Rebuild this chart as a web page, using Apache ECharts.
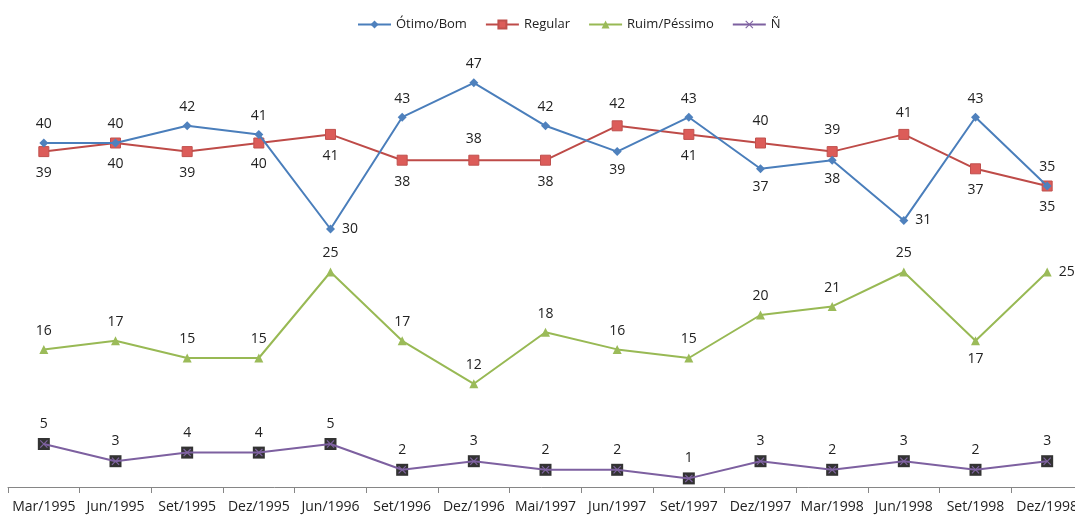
<!DOCTYPE html>
<html>
<head>
<meta charset="utf-8">
<script src="https://cdn.jsdelivr.net/npm/echarts@6/dist/echarts.min.js"></script>
<style>
  html, body { margin: 0; padding: 0; background: #fff; }
  #chart { width: 1075px; height: 515px; }
</style>
</head>
<body>
<div id="chart"></div>
<script>
var categories = ['Mar/1995', 'Jun/1995', 'Set/1995', 'Dez/1995', 'Jun/1996', 'Set/1996', 'Dez/1996',
    'Mai/1997', 'Jun/1997', 'Set/1997', 'Dez/1997', 'Mar/1998', 'Jun/1998', 'Set/1998', 'Dez/1998'];
var otimoBom = [40, 40, 42, 41, 30, 43, 47, 42, 39, 43, 37, 38, 31, 43, 35];
var regular = [39, 40, 39, 40, 41, 38, 38, 38, 42, 41, 40, 39, 41, 37, 35];
var ruimPessimo = [16, 17, 15, 15, 25, 17, 12, 18, 16, 15, 20, 21, 25, 17, 25];
var naoSabe = [5, 3, 4, 4, 5, 2, 3, 2, 2, 1, 3, 2, 3, 2, 3];

// where each data label sits (t = top, b = bottom, r = right)
var otimoPos = ['t', 't', 't', 't', 'r', 't', 't', 't', 'b', 't', 'b', 'b', 'r', 't', 't'];
var regularPos = ['b', 'b', 'b', 'b', 'b', 'b', 't', 'b', 't', 'b', 't', 't', 't', 'b', 'b'];
var ruimPos = ['t', 't', 't', 't', 't', 't', 't', 't', 't', 't', 't', 't', 't', 'b', 'r'];

var font = 'Open Sans';
var posName = { t: 'top', b: 'bottom', r: 'right' };

function withLabels(values, pos) {
    return values.map(function (v, i) {
        return { value: v, label: { position: posName[pos[i]] } };
    });
}

var labelBase = { show: true, color: '#222', fontFamily: font, fontSize: 14, distance: 7 };
var xMark = 'path://M0,1L1,0L5,4L9,0L10,1L6,5L10,9L9,10L5,6L1,10L0,9L4,5Z';

var chart = echarts.init(document.getElementById('chart'));
chart.setOption({
    animation: false,
    legend: {
        top: 13,
        left: 352,
        itemWidth: 33,
        itemHeight: 10,
        itemGap: 18,
        textStyle: { fontFamily: font, fontSize: 13, color: '#222' },
        data: ['Ótimo/Bom', 'Regular', 'Ruim/Péssimo', 'Ñ']
    },
    grid: { left: 8, width: 1075, top: 57, bottom: 28, outerBoundsMode: 'none', containLabel: false },
    xAxis: {
        type: 'category',
        data: categories,
        boundaryGap: true,
        axisLine: { lineStyle: { color: '#868686', width: 1 } },
        axisTick: { show: true, length: 6, lineStyle: { color: '#868686' } },
        axisLabel: { color: '#222', fontFamily: font, fontSize: 14, margin: 13, interval: 0 }
    },
    yAxis: {
        type: 'value',
        min: 0,
        max: 50,
        show: false,
        splitLine: { show: false }
    },
    series: [
        {
            name: 'Ótimo/Bom',
            type: 'line',
            data: withLabels(otimoBom, otimoPos),
            symbol: 'diamond',
            symbolSize: 9,
            z: 3,
            lineStyle: { color: '#4a7ebb', width: 2 },
            itemStyle: { color: '#4f81bd' },
            label: labelBase
        },
        {
            name: 'Regular',
            type: 'line',
            data: withLabels(regular, regularPos),
            symbol: 'rect',
            symbolSize: 10,
            z: 2,
            lineStyle: { color: '#be4b48', width: 2 },
            itemStyle: { color: '#dc5c59', borderColor: '#c0504d', borderWidth: 1 },
            label: Object.assign({}, labelBase, { distance: 9 })
        },
        {
            name: 'Ruim/Péssimo',
            type: 'line',
            data: withLabels(ruimPessimo, ruimPos),
            symbol: 'triangle',
            symbolSize: 9,
            lineStyle: { color: '#98b954', width: 2 },
            itemStyle: { color: '#9bbb59' },
            label: labelBase
        },
        {
            name: 'Ñ-fundo',
            type: 'scatter',
            data: naoSabe,
            symbol: 'rect',
            symbolSize: 12,
            z: 1,
            itemStyle: { color: '#000' },
            silent: true
        },
        {
            name: 'Ñ',
            type: 'line',
            data: naoSabe,
            symbol: xMark,
            symbolSize: 8,
            z: 3,
            lineStyle: { color: '#7d60a0', width: 2 },
            itemStyle: { color: '#8064a2' },
            label: Object.assign({}, labelBase, { position: 'top', distance: 9 })
        }
    ]
});
</script>
</body>
</html>
